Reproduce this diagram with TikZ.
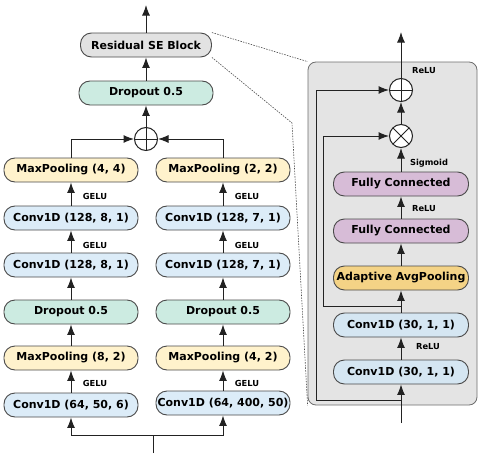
\documentclass[tikz,border=0pt]{standalone}
\usepackage{fontspec}
\setmainfont{DejaVu Sans}
\usepackage{xcolor}
\usetikzlibrary{arrows.meta}
\definecolor{figConv}{HTML}{DCECF8}
\definecolor{figDrop}{HTML}{CCEBE1}
\definecolor{figPool}{HTML}{FFF2CC}
\definecolor{figSE}{HTML}{E2E2E2}
\definecolor{figFC}{HTML}{D7BCD7}
\definecolor{figAvg}{HTML}{F4D386}
\definecolor{figPanel}{HTML}{E4E4E4}
\definecolor{figPConv}{HTML}{D5E6F2}
\definecolor{figLine}{HTML}{222222}
\definecolor{figEdge}{HTML}{4A4A4A}

\begin{document}
\begin{tikzpicture}[
  % pixel-like units, y grows downwards
  x=1pt, y=-1pt,
  layer/.style={
    rectangle, rounded corners=11pt,
    minimum width=134pt, minimum height=24pt,
    inner sep=1pt, line width=0.9pt, draw=figEdge,
    font=\fontsize{11}{12}\selectfont\bfseries
  },
  act/.style={font=\fontsize{8.3}{9}\selectfont\bfseries, inner sep=0pt},
  conn/.style={figLine, line width=1pt, -{Latex[length=10.5pt,width=8pt]}},
  wire/.style={figLine, line width=1pt},
  addop/.style={circle, draw=figLine, fill=white, line width=1pt,
    minimum size=23pt, inner sep=0pt,
    path picture={\draw[figLine, line width=1pt]
      (path picture bounding box.north) -- (path picture bounding box.south)
      (path picture bounding box.west) -- (path picture bounding box.east);}},
  mulop/.style={circle, draw=figLine, fill=white, line width=1pt,
    minimum size=23pt, inner sep=0pt,
    path picture={\draw[figLine, line width=1pt]
      (path picture bounding box.north west) -- (path picture bounding box.south east)
      (path picture bounding box.south west) -- (path picture bounding box.north east);}},
]
\useasboundingbox (0,0) rectangle (480,458);

% --- SE block panel (behind) ---
\node[draw=figEdge!80, fill=figPanel, rounded corners=8pt, line width=0.8pt,
      minimum width=169pt, minimum height=343pt, inner sep=0pt]
  (panel) at (392.5,233.5) {};

% --- Left branch ---
\node[layer, fill=figConv] (lc1)  at (71,405) {Conv1D (64, 50, 6)};
\node[layer, fill=figPool] (lmp1) at (71,358) {MaxPooling (8, 2)};
\node[layer, fill=figDrop] (ldo)  at (71,312) {Dropout 0.5};
\node[layer, fill=figConv] (lc2)  at (71,265) {Conv1D (128, 8, 1)};
\node[layer, fill=figConv] (lc3)  at (71,218) {Conv1D (128, 8, 1)};
\node[layer, fill=figPool] (lmp2) at (71,170) {MaxPooling (4, 4)};

% --- Right branch ---
\node[layer, fill=figConv] (rc1)  at (223,403) {Conv1D (64, 400, 50)};
\node[layer, fill=figPool] (rmp1) at (223,358) {MaxPooling (4, 2)};
\node[layer, fill=figDrop] (rdo)  at (223,312) {Dropout 0.5};
\node[layer, fill=figConv] (rc2)  at (223,265) {Conv1D (128, 7, 1)};
\node[layer, fill=figConv] (rc3)  at (223,218) {Conv1D (128, 7, 1)};
\node[layer, fill=figPool] (rmp2) at (223,170) {MaxPooling (2, 2)};

% --- Merge and head ---
\node[addop] (merge) at (146,139) {};
\node[layer, fill=figDrop] (hdo) at (146,93) {Dropout 0.5};
\node[layer, fill=figSE, minimum width=131pt] (se) at (146,45) {Residual SE Block};
\coordinate (out) at (146,5);

% --- Branch arrows ---
\foreach \s in {l,r} {
  \foreach \a/\b in {c1/mp1, mp1/do, do/c2, c2/c3, c3/mp2} {
    \draw[conn] (\s\a) -- (\s\b);
  }
}

% --- Activation labels ---
\foreach \s/\xx in {l/95, r/247} {
  \node[act] (\s-gelu1) at (\xx,383) {GELU};
  \node[act] (\s-gelu2) at (\xx,245) {GELU};
  \node[act] (\s-gelu3) at (\xx,196) {GELU};
}

% --- Input split ---
\coordinate (in) at (153,453);
\coordinate (split) at (153,435);
\draw[wire] (in) -- (split);
\draw[conn] (split) -| (lc1.south);
\draw[conn] (split) -| (rc1.south);

% --- Concatenate branches ---
\draw[conn] (lmp2.north) |- (merge.west);
\draw[conn] (rmp2.north) |- (merge.east);
\draw[conn] (merge) -- (hdo);
\draw[conn] (hdo) -- (se);
\draw[conn] (se) -- (out);

% --- Zoom lines ---
\coordinate (bend) at (292,123);
\draw[figEdge, line width=0.6pt, dash pattern=on 1.5pt off 1.2pt] (se.north east) -- (panel.north west);
\draw[figEdge, line width=0.6pt, dash pattern=on 1.5pt off 1.2pt] (se.south east) -- (bend) -- (panel.south west);

% --- SE block inside ---
\node[layer, fill=figPConv, minimum width=135pt] (pc1)  at (401,372) {Conv1D (30, 1, 1)};
\node[layer, fill=figPConv, minimum width=135pt] (pc2)  at (401,325) {Conv1D (30, 1, 1)};
\node[layer, fill=figAvg,   minimum width=135pt] (pool) at (401,278) {Adaptive AvgPooling};
\node[layer, fill=figFC,    minimum width=135pt] (fc1)  at (401,231) {Fully Connected};
\node[layer, fill=figFC,    minimum width=135pt] (fc2)  at (401,184) {Fully Connected};
\node[mulop] (mul) at (401,136) {};
\node[addop] (sum) at (401,90) {};
\coordinate (sein) at (401,423);
\coordinate (seout) at (401,32);
\coordinate (skipa) at (401,400);
\coordinate (skipb) at (401,306);

\draw[conn] (sein) -- (pc1);
\foreach \a/\b in {pc1/pc2, pc2/pool, pool/fc1, fc1/fc2, fc2/mul, mul/sum} {
  \draw[conn] (\a) -- (\b);
}
\draw[conn] (sum) -- (seout);

% skip connections
\draw[conn] (skipa) -- (316,400) |- (sum.west);
\draw[conn] (skipb) -- (323,306) |- (mul.west);

\node[act] (relu1) at (428,347) {ReLU};
\node[act] (relu2) at (424,209) {ReLU};
\node[act] (sigm)  at (429,163) {Sigmoid};
\node[act] (relu3) at (424,71)  {ReLU};

\end{tikzpicture}
\end{document}
